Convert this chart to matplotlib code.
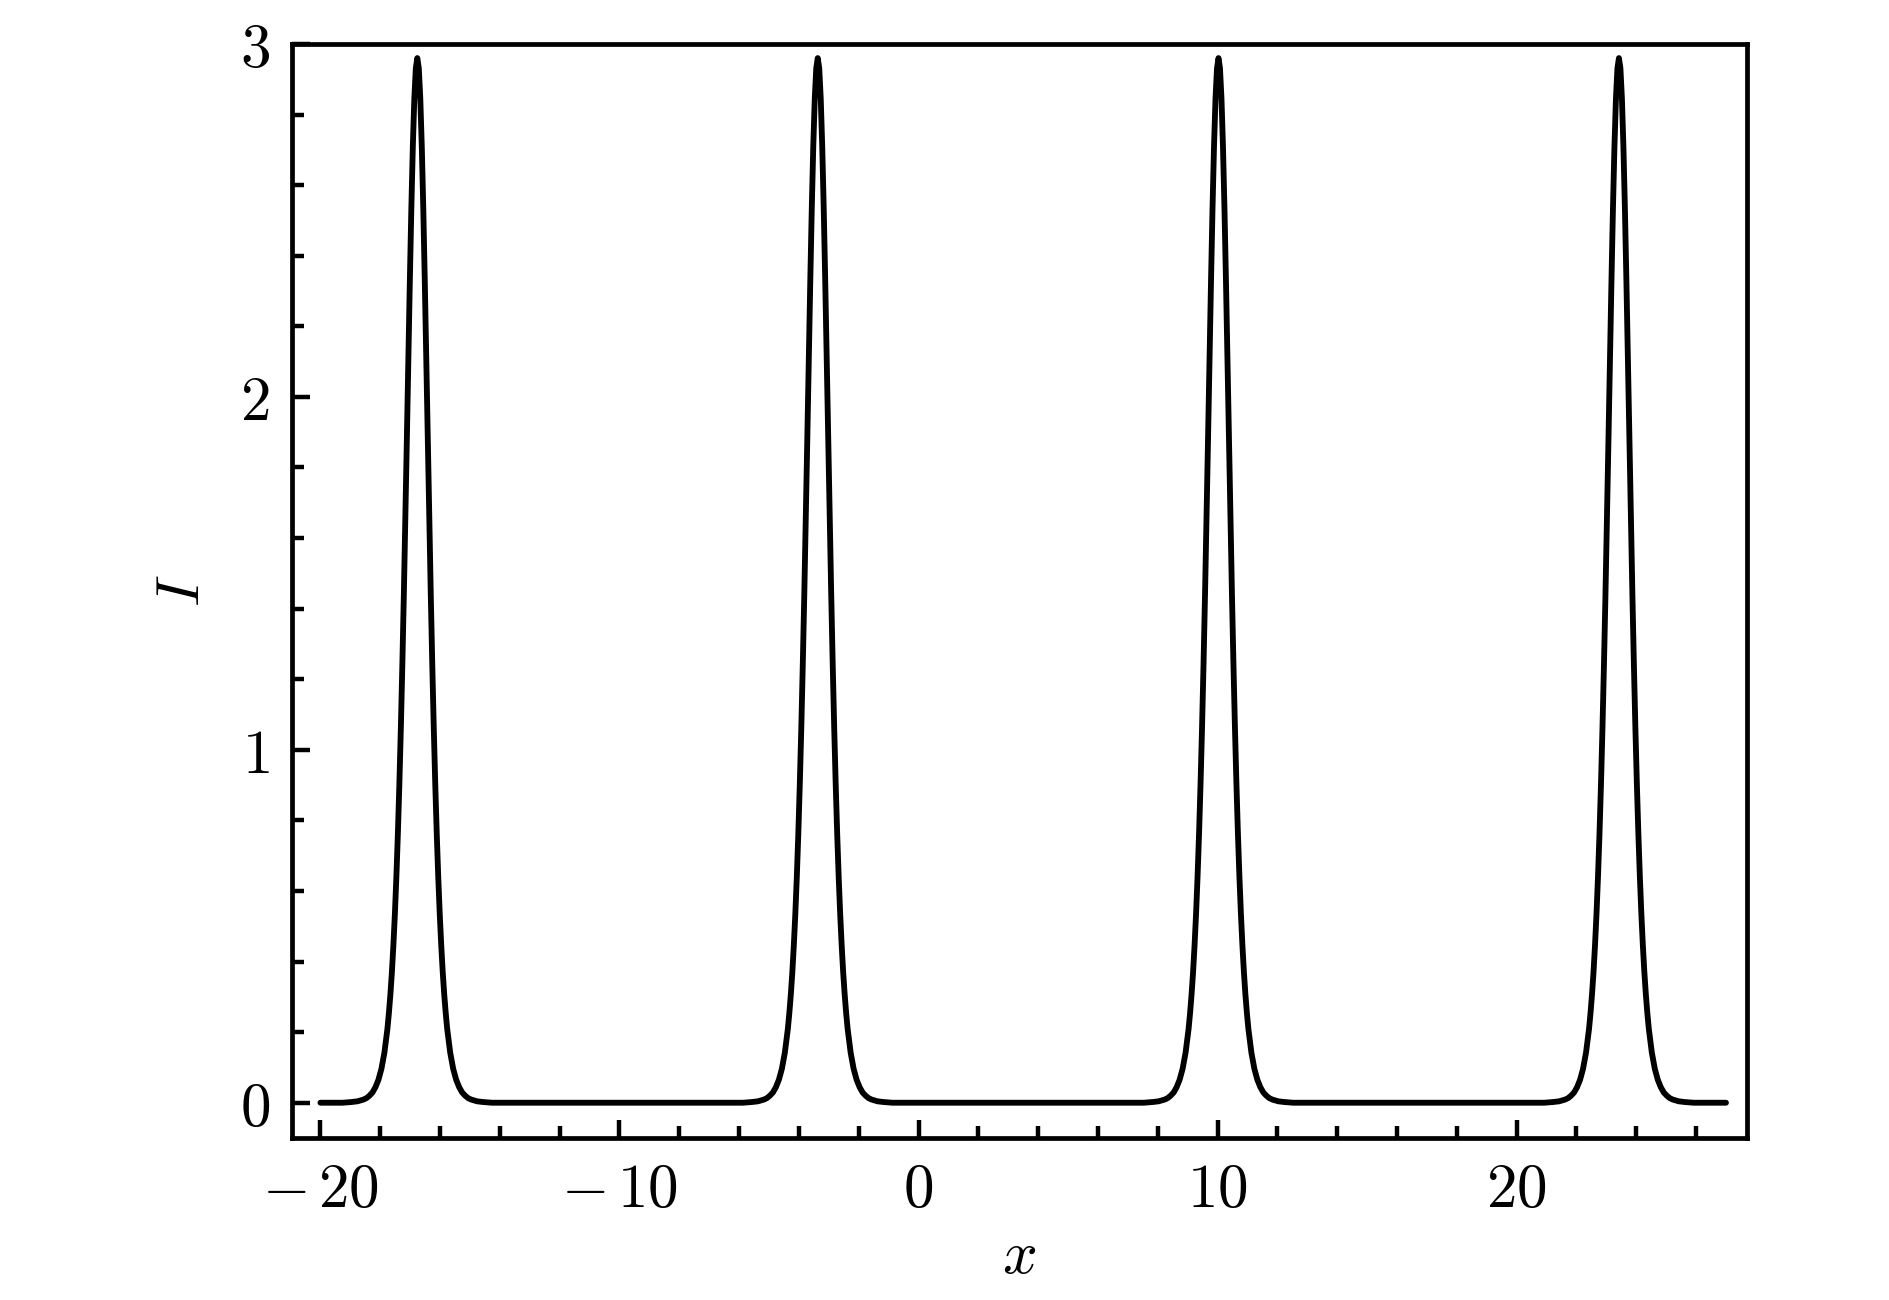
import numpy as np
import matplotlib
matplotlib.use("Agg")
import matplotlib.pyplot as plt
from matplotlib.ticker import MultipleLocator, FuncFormatter

# peak centres (x units)
peak_centers = [-16.76, -3.37, 10.03, 23.42]
# one peak profile: offset from centre -> intensity
profile_offset = [0.0, 0.05, 0.1, 0.15, 0.2, 0.25, 0.3, 0.35, 0.4, 0.45, 0.5,
                  0.55, 0.6, 0.65, 0.7, 0.75, 0.8, 0.85, 0.9, 0.95, 1.0, 1.1,
                  1.2, 1.3, 1.4, 1.5, 1.6, 1.7, 1.8, 2.0, 2.2, 2.5, 3.0]
profile_I = [2.96, 2.931, 2.845, 2.709, 2.533, 2.328, 2.106, 1.879, 1.655,
             1.441, 1.243, 1.063, 0.903, 0.762, 0.640, 0.535, 0.446, 0.370,
             0.307, 0.254, 0.209, 0.142, 0.096, 0.065, 0.044, 0.029, 0.020,
             0.013, 0.009, 0.004, 0.002, 0.0, 0.0]
x_start, x_end = -20.0, 27.0

# assemble the curve: baseline, then each peak's profile mirrored about its centre
off = np.array(profile_offset)
val = np.array(profile_I)
x_pts = [x_start]
I_pts = [0.0]
for c in peak_centers:
    x_pts += list(c - off[::-1]) + list(c + off[1:])
    I_pts += list(val[::-1]) + list(val[1:])
x_pts.append(x_end)
I_pts.append(0.0)

plt.rcParams["mathtext.fontset"] = "cm"
plt.rcParams["font.family"] = "serif"


def fmt(v, pos):
    v = int(round(v))
    if v < 0:
        return r"$-\,%d$" % abs(v)
    return r"$%d$" % v


fig = plt.figure(figsize=(18.9, 13), dpi=100)
ax = fig.add_axes([0.1545, 0.1246, 0.9243 - 0.1545, 0.9662 - 0.1246])
ax.plot(x_pts, I_pts, color="black", lw=4.2, solid_joinstyle="round",
        solid_capstyle="round")

ax.set_xlim(-20.95, 27.7)
ax.set_ylim(-0.1, 3.0)
ax.xaxis.set_major_locator(MultipleLocator(10))
ax.xaxis.set_minor_locator(MultipleLocator(2))
ax.yaxis.set_major_locator(MultipleLocator(1))
ax.yaxis.set_minor_locator(MultipleLocator(0.2))
ax.xaxis.set_major_formatter(FuncFormatter(fmt))
ax.yaxis.set_major_formatter(FuncFormatter(fmt))

ax.tick_params(which="both", direction="in", top=False, right=False,
               width=3.2, labelsize=44)
ax.tick_params(which="major", length=13, pad=16)
ax.tick_params(which="minor", length=8.5)
for s in ax.spines.values():
    s.set_linewidth(3.4)

ax.set_xlabel(r"$x$", fontsize=44, labelpad=4)
ax.set_ylabel(r"$I$", fontsize=44, labelpad=20)

plt.savefig("out.png", dpi=100)
plt.close()
